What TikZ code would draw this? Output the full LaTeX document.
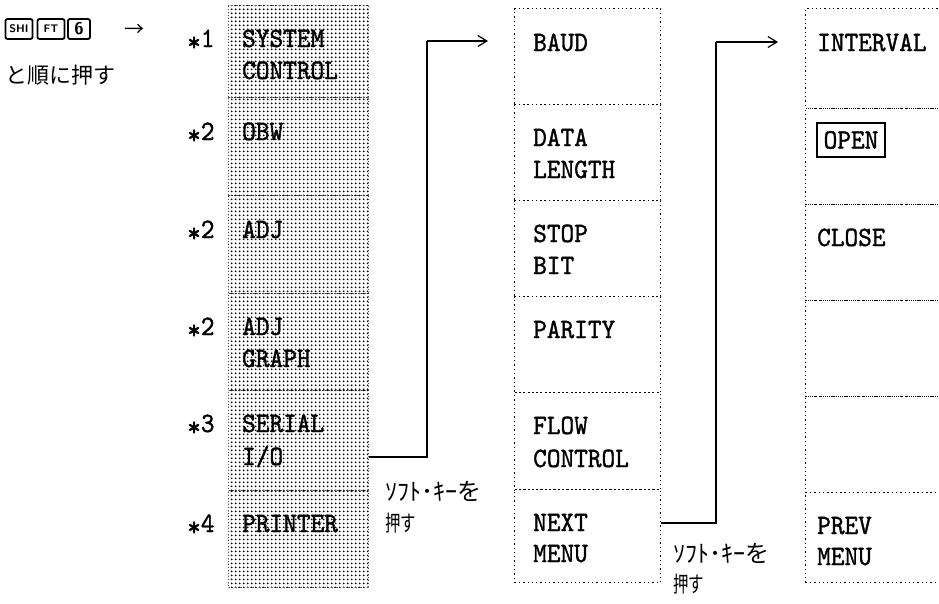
\documentclass[tikz,border=0pt]{standalone}
\usepackage{fontspec}
\setmainfont{Liberation Serif}
\newfontfamily\typ[FakeStretch=0.93,FakeBold=1.2]{lmmono10-regular.otf}
\newfontfamily\jp{Noto Sans CJK JP}
\newfontfamily\jpc[FakeStretch=0.7]{Noto Sans CJK JP}
\usetikzlibrary{arrows.meta,patterns}
\pgfdeclarepatternformonly{graydots}{\pgfpointorigin}{\pgfpoint{3.6pt}{3.6pt}}{\pgfpoint{3.6pt}{3.6pt}}{\pgfpathcircle{\pgfpoint{1.8pt}{1.8pt}}{1.1pt}\pgfusepath{fill}}
\tikzset{
  gcell/.style={draw=black!70, dash pattern=on 1pt off 2pt, line width=1pt,
    pattern=graydots, pattern color=black, minimum width=140pt,
    inner sep=0pt, anchor=north west},
  wcell/.style={draw, dash pattern=on 1.3pt off 3pt, line width=1.2pt,
    minimum width=146pt, inner sep=0pt, anchor=north west},
  rcell/.style={wcell, minimum width=160pt},
  lab/.style={font=\typ\fontsize{28}{32}\selectfont, anchor=base west, inner sep=0pt},
  star/.style={lab},
  jlab/.style={font=\jp\fontsize{24}{26}\selectfont, anchor=west, inner sep=0pt},
  jlabc/.style={font=\jpc\fontsize{22}{26}\selectfont, anchor=west, inner sep=0pt},
  keycap/.style={draw, line width=1.8pt, rounded corners=2pt, minimum width=27pt,
    minimum height=20pt, inner sep=1pt, font=\sffamily\bfseries\fontsize{11}{11}\selectfont},
  conn/.style={line width=1.2pt},
  arr/.style={line width=1.2pt, -{Straight Barb[length=9pt,width=11pt,line width=1.2pt]}},
}
\begin{document}
\begin{tikzpicture}[x=1pt,y=-1pt]
\useasboundingbox (0,0) rectangle (939,603);

% header
\node[keycap] (k1) at (19,29) {SHI};
\node[keycap] (k2) at (51,29) {FT};
\node[keycap, minimum width=22pt, font=\sffamily\bfseries\fontsize{17}{17}\selectfont] (k3) at (79,29) {6};
\node[font=\jp\fontsize{20}{20}\selectfont, inner sep=0pt] (harrow) at (134,30) {→};
\node[font=\jp\fontsize{22}{24}\selectfont, anchor=west, inner sep=0pt] (hjp) at (5,75) {と順に押す};

% gray column
\node[gcell, minimum height=92pt] (g1) at (228,5) {};
\node[gcell, minimum height=98pt] (g2) at (228,97) {};
\node[gcell, minimum height=98pt] (g3) at (228,195) {};
\node[gcell, minimum height=97pt] (g4) at (228,293) {};
\node[gcell, minimum height=100pt] (g5) at (228,390) {};
\node[gcell, minimum height=97pt] (g6) at (228,490) {};

\node[star] (s1) at (187,47) {\raisebox{-4pt}{*}1};
\node[star] (s2) at (187,140) {\raisebox{-4pt}{*}2};
\node[star] (s3) at (187,238) {\raisebox{-4pt}{*}2};
\node[star] (s4) at (187,335) {\raisebox{-4pt}{*}2};
\node[star] (s5) at (187,432) {\raisebox{-4pt}{*}3};
\node[star] (s6) at (187,532) {\raisebox{-4pt}{*}4};

\node[lab] (g1a) at (242,47) {SYSTEM};
\node[lab] (g1b) at (242,79) {CONTROL};
\node[lab] (g2a) at (242,140) {OBW};
\node[lab] (g3a) at (242,238) {ADJ};
\node[lab] (g4a) at (242,335) {ADJ};
\node[lab] (g4b) at (242,367) {GRAPH};
\node[lab] (g5a) at (242,432) {SERIAL};
\node[lab] (g5b) at (242,465) {I/O};
\node[lab] (g6a) at (242,532) {PRINTER};

\node[jlab] (j1a) at (385,491) {ｿﾌﾄ･ｷｰを};
\node[jlabc] (j1b) at (385,523) {押す};

% middle column
\node[wcell, minimum height=96pt] (m1) at (514,8) {};
\node[wcell, minimum height=96pt] (m2) at (514,104) {};
\node[wcell, minimum height=96pt] (m3) at (514,200) {};
\node[wcell, minimum height=96pt] (m4) at (514,296) {};
\node[wcell, minimum height=97pt] (m5) at (514,392) {};
\node[wcell, minimum height=93pt] (m6) at (514,489) {};

\node[lab] (m1a) at (533,51) {BAUD};
\node[lab] (m2a) at (533,146) {DATA};
\node[lab] (m2b) at (533,178) {LENGTH};
\node[lab] (m3a) at (533,242) {STOP};
\node[lab] (m3b) at (533,274) {BIT};
\node[lab] (m4a) at (533,338) {PARITY};
\node[lab] (m5a) at (533,434) {FLOW};
\node[lab] (m5b) at (533,467) {CONTROL};
\node[lab] (m6a) at (533,531) {NEXT};
\node[lab] (m6b) at (533,562) {MENU};

\node[jlab] (j2a) at (673,553) {ｿﾌﾄ･ｷｰを};
\node[jlabc] (j2b) at (673,584) {押す};

% right column
\node[rcell, minimum height=100pt] (r1) at (805,8) {};
\node[rcell, minimum height=96pt] (r2) at (805,108) {};
\node[rcell, minimum height=96pt] (r3) at (805,204) {};
\node[rcell, minimum height=96pt] (r4) at (805,300) {};
\node[rcell, minimum height=96pt] (r5) at (805,396) {};
\node[rcell, minimum height=90pt] (r6) at (805,492) {};

\node[lab] (r1a) at (817,51) {INTERVAL};
\node[draw, line width=1.4pt, minimum width=68pt, minimum height=34pt, inner sep=0pt,
  font=\typ\fontsize{28}{32}\selectfont] (r2a) at (851,140) {OPEN};
\node[lab] (r3a) at (817,246) {CLOSE};
\node[lab] (r6a) at (817,534) {PREV};
\node[lab] (r6b) at (817,565) {MENU};

% connectors
\coordinate (c1) at (427,457);
\coordinate (c1t) at (427,41);
\coordinate (a1) at (488,41);
\draw[conn] (g5.east |- c1) -- (c1) -- (c1t);
\draw[arr] (c1t) -- (a1);

\coordinate (c2) at (716,523);
\coordinate (c2t) at (716,42);
\coordinate (a2) at (778,42);
\draw[conn] (m6.east |- c2) -- (c2) -- (c2t);
\draw[arr] (c2t) -- (a2);
\end{tikzpicture}
\end{document}
